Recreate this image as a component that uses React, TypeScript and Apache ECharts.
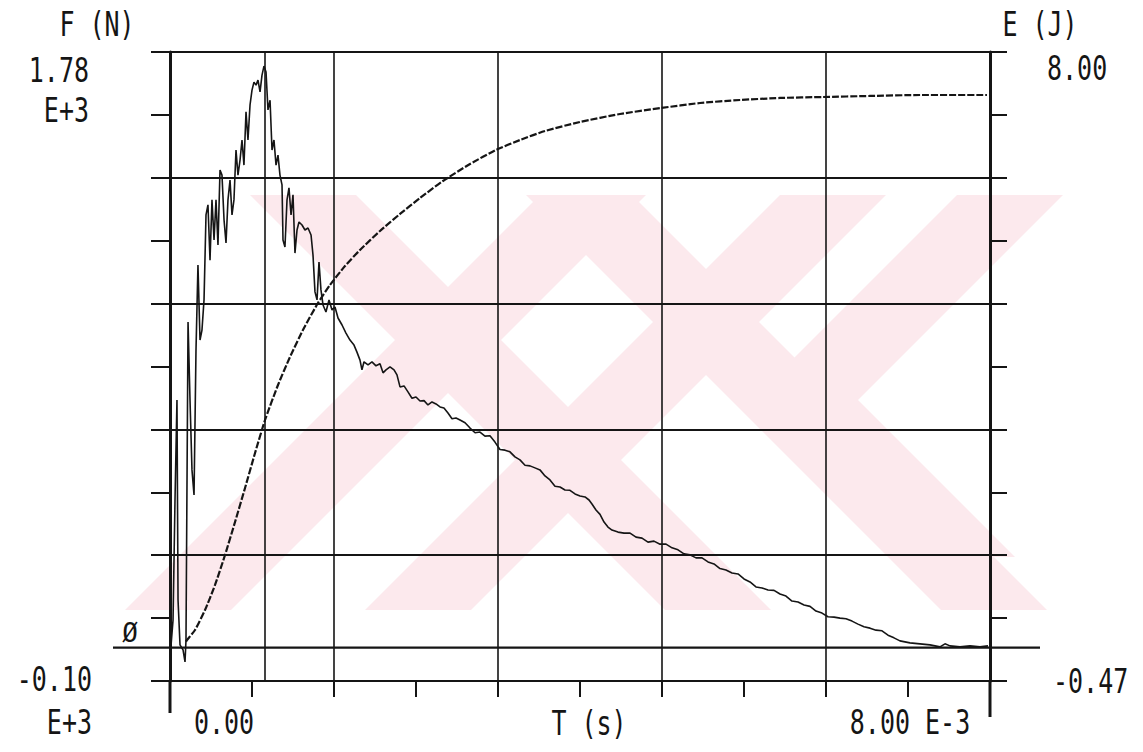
import React, { useEffect, useRef } from "react";
import * as echarts from "echarts";

// Time in ms (axis shown as E-3 s), force in N, energy in J
const T_RANGE = [-1, 9];
const F_RANGE = [-100, 1780];
const E_RANGE = [-0.47, 8];
const T_GRID_LINES = [1, 3, 5, 7];

const FORCE_CURVE: number[][] = [
  [-0.988, 5], [-0.963, 82], [-0.939, 441], [-0.915, 740], [-0.902, 142], [-0.878, 8], [-0.841, -7], [-0.817, -43],
  [-0.805, 22], [-0.78, 973], [-0.756, 740], [-0.732, 531], [-0.707, 456], [-0.683, 889], [-0.659, 1143], [-0.634, 919],
  [-0.61, 949], [-0.585, 1039], [-0.561, 1293], [-0.537, 1323], [-0.512, 1158], [-0.488, 1338], [-0.463, 1218],
  [-0.439, 1338], [-0.415, 1203], [-0.39, 1427], [-0.366, 1412], [-0.341, 1278], [-0.317, 1209], [-0.293, 1338],
  [-0.268, 1397], [-0.244, 1293], [-0.22, 1338], [-0.195, 1487], [-0.171, 1412], [-0.146, 1457], [-0.122, 1517],
  [-0.098, 1442], [-0.073, 1601], [-0.049, 1517], [-0.024, 1622], [0, 1666], [0.024, 1690], [0.049, 1681],
  [0.073, 1696], [0.098, 1661], [0.122, 1711], [0.146, 1738], [0.171, 1720], [0.195, 1607], [0.22, 1636],
  [0.244, 1487], [0.268, 1517], [0.293, 1442], [0.317, 1472], [0.341, 1412], [0.366, 1383], [0.378, 1218],
  [0.402, 1197], [0.427, 1338], [0.451, 1374], [0.476, 1293], [0.5, 1353], [0.524, 1179], [0.549, 1248],
  [0.573, 1272], [0.61, 1263], [0.646, 1248], [0.683, 1254], [0.72, 1233], [0.744, 1173], [0.768, 1063],
  [0.793, 1039], [0.817, 1152], [0.841, 1069], [0.866, 1024], [0.902, 1003], [0.939, 1039], [0.976, 1009],
  [1.012, 1018], [1.049, 985], [1.098, 964], [1.146, 940], [1.195, 919], [1.244, 904], [1.28, 883], [1.317, 859],
  [1.341, 830], [1.366, 854], [1.415, 845], [1.463, 854], [1.512, 842], [1.561, 848], [1.598, 821], [1.634, 830],
  [1.683, 839], [1.732, 830], [1.768, 815], [1.805, 779], [1.854, 782], [1.902, 764], [1.951, 745], [2.0, 749],
  [2.049, 737], [2.098, 738], [2.146, 725], [2.195, 734], [2.244, 728], [2.293, 719], [2.341, 716], [2.39, 701],
  [2.439, 684], [2.488, 686], [2.537, 680], [2.598, 672], [2.659, 656], [2.72, 642], [2.78, 644], [2.841, 632],
  [2.902, 633], [2.963, 614], [3.024, 592], [3.085, 590], [3.146, 585], [3.207, 570], [3.268, 561], [3.329, 545],
  [3.39, 543], [3.451, 537], [3.512, 531], [3.573, 513], [3.634, 501], [3.695, 482], [3.756, 480], [3.817, 471],
  [3.878, 470], [3.939, 459], [4.0, 453], [4.061, 450], [4.11, 441], [4.146, 429], [4.195, 411], [4.244, 398],
  [4.293, 375], [4.341, 360], [4.39, 351], [4.463, 345], [4.537, 342], [4.61, 342], [4.683, 330], [4.756, 327],
  [4.829, 315], [4.902, 318], [4.976, 309], [5.049, 309], [5.122, 298], [5.195, 292], [5.268, 280], [5.341, 277],
  [5.415, 268], [5.488, 268], [5.561, 256], [5.634, 250], [5.707, 236], [5.78, 232], [5.854, 223], [5.927, 220],
  [6.0, 205], [6.073, 196], [6.146, 181], [6.22, 178], [6.293, 172], [6.366, 171], [6.439, 160], [6.512, 154],
  [6.585, 139], [6.659, 136], [6.732, 127], [6.805, 123], [6.878, 109], [6.951, 103], [7.024, 92], [7.098, 91],
  [7.171, 88], [7.244, 86], [7.317, 79], [7.39, 70], [7.463, 62], [7.537, 58], [7.61, 52], [7.683, 50],
  [7.756, 37], [7.829, 29], [7.902, 20], [8.024, 14], [8.146, 11], [8.268, 8], [8.39, 2], [8.451, 11],
  [8.512, 5], [8.634, 2], [8.756, 5], [8.878, 2], [8.976, 5],
];

const ENERGY_CURVE: number[][] = [
  [-0.805, 0.06], [-0.793, 0.082], [-0.695, 0.217], [-0.573, 0.486], [-0.451, 0.823], [-0.329, 1.227],
  [-0.207, 1.671], [-0.085, 2.129], [0.037, 2.6], [0.159, 3.045], [0.317, 3.516], [0.463, 3.893], [0.634, 4.284],
  [0.805, 4.62], [0.951, 4.863], [1.134, 5.118], [1.317, 5.334], [1.561, 5.59], [1.805, 5.819], [2.049, 6.034],
  [2.329, 6.263], [2.659, 6.492], [2.976, 6.681], [3.268, 6.815], [3.573, 6.936], [4.0, 7.058], [4.488, 7.165],
  [4.988, 7.246], [5.463, 7.313], [5.951, 7.354], [6.439, 7.381], [6.963, 7.394], [7.537, 7.408], [8.146, 7.421],
  [8.963, 7.421],
];

const LEFT_TITLE = "F (N)";
const RIGHT_TITLE = "E (J)";
const X_TITLE = "T (s)";
const F_MAX_LABEL = ["1.78", "E+3"];
const F_MIN_LABEL = ["-0.10", "E+3"];
const E_MAX_LABEL = "8.00";
const E_MIN_LABEL = "-0.47";
const T_MIN_LABEL = "0.00";
const T_MAX_LABEL = "8.00 E-3";
const ZERO_MARK = "Ø";

const W = 1143;
const H = 752;
const G_LEFT = 170;
const G_RIGHT = 990;
const G_TOP = 52;
const G_BOTTOM = 681;
const INK = "#151515";
const PINK = "#fce9ed";
const FONT = '"DejaVu Sans Mono", "Liberation Mono", monospace';

function txt(id: string, text: string, x: number, y: number, align: string, size = 25, sy = 1.35) {
  return {
    id,
    type: "text",
    x,
    y,
    scaleY: sy,
    z: 100,
    silent: true,
    style: {
      text,
      fill: INK,
      fontFamily: FONT,
      fontSize: size,
      align,
      verticalAlign: "middle",
    },
  };
}

function quad(id: string, pts: number[][]) {
  return {
    id,
    type: "polygon",
    z: -100,
    silent: true,
    shape: { points: pts },
    style: { fill: PINK },
  };
}

function band(id: string, top0: number, top1: number, bot0: number, bot1: number, y0: number, y1: number) {
  return quad(id, [[top0, y0], [top1, y0], [bot1, y1], [bot0, y1]]);
}

export default function App() {
  const ref = useRef<HTMLDivElement>(null);

  useEffect(() => {
    if (!ref.current) return;
    const chart = echarts.init(ref.current, undefined, { renderer: "svg" });
    const peak = FORCE_CURVE.reduce((a, b) => (b[1] > a[1] ? b : a));
    const frameLine = { color: INK, width: 2 };

    chart.setOption({
      animation: false,
      backgroundColor: "#ffffff",
      grid: { left: G_LEFT, right: W - G_RIGHT, top: G_TOP, bottom: H - G_BOTTOM, containLabel: false },
      xAxis: [
        {
          type: "value",
          min: T_RANGE[0],
          max: T_RANGE[1],
          interval: 1,
          position: "bottom",
          axisLine: { show: true, onZero: false, lineStyle: frameLine },
          axisTick: { show: true, length: 16, inside: false, lineStyle: frameLine },
          axisLabel: { show: false },
          splitLine: { show: false },
        },
      ],
      yAxis: [
        {
          type: "value",
          min: 0,
          max: 5,
          interval: 1,
          position: "left",
          axisLine: { show: true, onZero: false, lineStyle: { color: INK, width: 3 } },
          axisTick: { show: true, length: 19, inside: false, lineStyle: frameLine },
          minorTick: { show: true, splitNumber: 2, length: 19, lineStyle: frameLine },
          axisLabel: { show: false },
          splitLine: { show: true, lineStyle: frameLine },
        },
        {
          type: "value",
          min: 0,
          max: 5,
          interval: 1,
          position: "right",
          axisLine: { show: true, onZero: false, lineStyle: { color: INK, width: 3 } },
          axisTick: { show: true, length: 17, inside: false, lineStyle: frameLine },
          minorTick: { show: true, splitNumber: 2, length: 17, lineStyle: frameLine },
          axisLabel: { show: false },
          splitLine: { show: false },
        },
        { type: "value", min: F_RANGE[0], max: F_RANGE[1], show: false, splitLine: { show: false } },
        { type: "value", min: E_RANGE[0], max: E_RANGE[1], show: false, splitLine: { show: false } },
      ],
      series: [
        {
          name: "F",
          type: "line",
          xAxisIndex: 0,
          yAxisIndex: 2,
          data: FORCE_CURVE,
          showSymbol: false,
          lineStyle: { color: INK, width: 1.6 },
          z: 5,
          markLine: {
            silent: true,
            symbol: ["none", "none"],
            label: { show: false },
            lineStyle: { color: INK, width: 1.6, type: "solid" },
            data: [...T_GRID_LINES.map((v) => ({ xAxis: v })), { xAxis: peak[0] }],
          },
        },
        {
          name: "E",
          type: "line",
          xAxisIndex: 0,
          yAxisIndex: 3,
          data: ENERGY_CURVE,
          showSymbol: false,
          smooth: 0.2,
          lineStyle: { color: INK, width: 2.2, type: [7, 2] },
          z: 5,
        },
      ],
    });

    const y0 = chart.convertToPixel({ yAxisIndex: 2 }, 0) as number;
    const xl = chart.convertToPixel({ xAxisIndex: 0 }, T_RANGE[0]) as number;
    const xr = chart.convertToPixel({ xAxisIndex: 0 }, T_RANGE[1]) as number;
    const yb = chart.convertToPixel({ yAxisIndex: 0 }, 0) as number;

    const wy0 = 195;
    const wy1 = 610;
    const d = wy1 - wy0;

    chart.setOption({
      graphic: {
        elements: [
          band("wm1", 250, 356, 250 + d, 356 + d, wy0, wy1),
          band("wm2", 540, 646, 540 - d, 646 - d, wy0, wy1),
          band("wm3", 526, 632, 526 + d, 632 + d, wy0, wy1),
          band("wm4", 780, 886, 780 - d, 886 - d, wy0, wy1),
          quad("wm5", [[957, 195], [1063, 195], [858, 400], [752, 400]]),
          quad("wm6", [[752, 400], [858, 400], [1015, 557], [909, 557]]),
          {
            id: "zero",
            type: "line",
            z: 50,
            silent: true,
            shape: { x1: 113, y1: y0, x2: 1040, y2: y0 },
            style: { stroke: INK, lineWidth: 2.2 },
          },
          {
            id: "lext",
            type: "line",
            z: 50,
            silent: true,
            shape: { x1: xl, y1: yb, x2: xl, y2: yb + 32 },
            style: { stroke: INK, lineWidth: 3 },
          },
          {
            id: "rext",
            type: "line",
            z: 50,
            silent: true,
            shape: { x1: xr, y1: yb, x2: xr, y2: yb + 36 },
            style: { stroke: INK, lineWidth: 3 },
          },
          txt("ft", LEFT_TITLE, 97, 24, "center"),
          txt("et", RIGHT_TITLE, 1040, 24, "center"),
          txt("fmax1", F_MAX_LABEL[0], 89, 70, "right"),
          txt("fmax2", F_MAX_LABEL[1], 89, 110, "right"),
          txt("fmin1", F_MIN_LABEL[0], 92, 679, "right"),
          txt("fmin2", F_MIN_LABEL[1], 92, 722, "right"),
          txt("emax", E_MAX_LABEL, 1047, 68, "left"),
          txt("emin", E_MIN_LABEL, 1053, 681, "left"),
          txt("tmin", T_MIN_LABEL, 224, 722, "center"),
          txt("tt", X_TITLE, 589, 723, "center"),
          txt("tmax", T_MAX_LABEL, 910, 722, "center"),
          {
            id: "zm",
            type: "text",
            x: 130,
            y: 633,
            z: 100,
            silent: true,
            style: { text: ZERO_MARK, fill: INK, fontFamily: FONT, fontSize: 26, align: "center", verticalAlign: "middle" },
          },
        ],
      },
    });

    return () => chart.dispose();
  }, []);

  return <div ref={ref} style={{ position: "fixed", left: 0, top: 0, width: W, height: H, background: "#fff" }} />;
}
